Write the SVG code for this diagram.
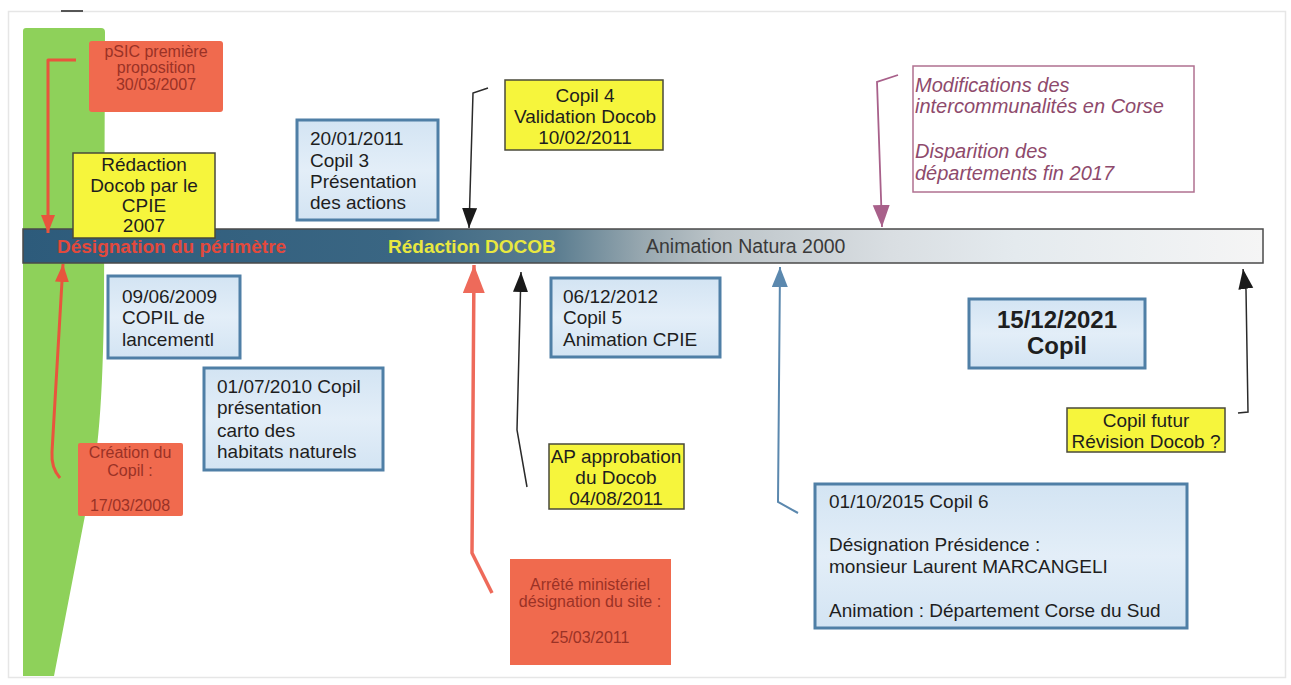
<svg xmlns="http://www.w3.org/2000/svg" width="1291" height="685" viewBox="0 0 1291 685">
<defs>
<style>
text{font-family:"Liberation Sans",Arial,sans-serif;}
.t{font-size:19px;fill:#1e1e1e;}
.tc{font-size:19px;fill:#1e1e1e;text-anchor:middle;}
.tr{font-size:16px;fill:#9a3226;text-anchor:middle;}
.blue{fill:url(#gBlue);stroke:#4f7fa6;stroke-width:3;}
.yel{fill:#f6f53c;stroke:#4a4a3a;stroke-width:1.5;}
.red{fill:#f06a4e;}
.cr{fill:none;stroke:#e8553d;stroke-width:3;stroke-linejoin:round;}
.ck{fill:none;stroke:#2a2a2a;stroke-width:1.5;}
</style>
<linearGradient id="gBar" x1="23" y1="0" x2="1263" y2="0" gradientUnits="userSpaceOnUse">
<stop offset="0" stop-color="#2d5b7b"/>
<stop offset="0.3" stop-color="#3a6683"/>
<stop offset="0.43" stop-color="#5b7d90"/>
<stop offset="0.5" stop-color="#98a8b0"/>
<stop offset="0.56" stop-color="#bcc4c8"/>
<stop offset="0.7" stop-color="#d9dee2"/>
<stop offset="0.8" stop-color="#e4eaee"/>
<stop offset="1" stop-color="#f5f5f5"/>
</linearGradient>
<linearGradient id="gBlue" x1="0" y1="0" x2="0" y2="1">
<stop offset="0" stop-color="#d3e4f3"/>
<stop offset="0.5" stop-color="#e3eef8"/>
<stop offset="1" stop-color="#d3e4f3"/>
</linearGradient>
<marker id="mRedS" markerUnits="userSpaceOnUse" markerWidth="20" markerHeight="16" refX="18" refY="7" orient="auto"><path d="M0,0 L18,7 L0,14 z" fill="#e8553d"/></marker>
<marker id="mRedL" markerUnits="userSpaceOnUse" markerWidth="30" markerHeight="24" refX="28" refY="11" orient="auto"><path d="M0,0 L28,11 L0,22 z" fill="#ee6a5a"/></marker>
<marker id="mBlack" markerUnits="userSpaceOnUse" markerWidth="22" markerHeight="16" refX="20" refY="7.5" orient="auto"><path d="M0,0 L20,7.5 L0,15 z" fill="#1a1a1a"/></marker>
<marker id="mPink" markerUnits="userSpaceOnUse" markerWidth="24" markerHeight="18" refX="22" refY="8.5" orient="auto"><path d="M0,0 L22,8.5 L0,17 z" fill="#a8608a"/></marker>
<marker id="mBlue" markerUnits="userSpaceOnUse" markerWidth="22" markerHeight="18" refX="20" refY="8" orient="auto"><path d="M0,0 L20,8 L0,16 z" fill="#5b88ae"/></marker>
</defs>
<rect width="1291" height="685" fill="#ffffff"/>
<rect x="8.5" y="11.5" width="1277" height="666" fill="none" stroke="#e6e6e6" stroke-width="1.5"/>
<line x1="61" y1="11" x2="83" y2="11" stroke="#555" stroke-width="2"/>

<g id="green-band">
<path d="M26,28 L101,28 Q105,28 105,32 L104,300 C103,400 98,460 88,500 L54,676 L23,676 L23,31 Q23,28 26,28 Z" fill="#8ed15a"/>
</g>

<g id="timeline">
<rect x="23" y="229" width="1240" height="34" fill="url(#gBar)" stroke="#4a4a4a" stroke-width="1.5"/>
<text x="57" y="253" style="font-size:19px;font-weight:bold;fill:#e2493c">Désignation du périmètre</text>
<text x="388" y="253" style="font-size:19px;font-weight:bold;fill:#e9e83f">Rédaction DOCOB</text>
<text x="646" y="253" style="font-size:19.5px;fill:#3a3a3a">Animation Natura 2000</text>
</g>

<g id="connectors">
<path class="cr" d="M76,60 L48,60 L48,233" marker-end="url(#mRedS)"/>
<path class="cr" d="M60,478 Q51,468 52,452 L63,264" marker-end="url(#mRedS)"/>
<path d="M492,593 L472,553 L474,265" fill="none" stroke="#ee6a5a" stroke-width="3.5" stroke-linejoin="round" marker-end="url(#mRedL)"/>
<path class="ck" d="M527,487 L517,430 L521,272" marker-end="url(#mBlack)"/>
<path class="ck" d="M488,88 L473,93 L469,228" marker-end="url(#mBlack)"/>
<path d="M898,75 L877,82 L882,227" fill="none" stroke="#a8608a" stroke-width="1.8" marker-end="url(#mPink)"/>
<path d="M798,513 L778,502 L780,267" fill="none" stroke="#5b88ae" stroke-width="2" marker-end="url(#mBlue)"/>
<path class="ck" d="M1238,413 L1248,412 L1246,290 L1243,269" marker-end="url(#mBlack)"/>
</g>

<g id="psic">
<rect class="red" x="89" y="41" width="134" height="71" rx="3"/>
<text class="tr" x="156" y="57">pSIC première</text>
<text class="tr" x="156" y="73">proposition</text>
<text class="tr" x="156" y="90">30/03/2007</text>
</g>

<g id="redaction-cpie">
<rect class="yel" x="73" y="153" width="142" height="85"/>
<text class="tc" x="144" y="171">Rédaction</text>
<text class="tc" x="144" y="192">Docob par le</text>
<text class="tc" x="144" y="212">CPIE</text>
<text class="tc" x="144" y="232">2007</text>
</g>

<g id="copil3">
<rect class="blue" x="297" y="120" width="141" height="100"/>
<text class="t" x="310" y="145">20/01/2011</text>
<text class="t" x="310" y="167">Copil 3</text>
<text class="t" x="310" y="188">Présentation</text>
<text class="t" x="310" y="209">des actions</text>
</g>

<g id="copil4">
<rect class="yel" x="505" y="80" width="158" height="70"/>
<text class="tc" x="585" y="102">Copil 4</text>
<text class="tc" x="585" y="123">Validation Docob</text>
<text class="tc" x="585" y="144">10/02/2011</text>
</g>

<g id="modifications">
<rect x="913" y="66" width="281" height="126" fill="#ffffff" stroke="#b07090" stroke-width="1.5"/>
<g style="font-size:20px;font-style:italic;fill:#8e4a6c">
<text x="915" y="92">Modifications des</text>
<text x="915" y="113">intercommunalités en Corse</text>
<text x="915" y="158">Disparition des</text>
<text x="915" y="180">départements fin 2017</text>
</g>
</g>

<g id="copil-lancement">
<rect class="blue" x="108" y="276" width="132" height="82"/>
<text class="t" x="122" y="303">09/06/2009</text>
<text class="t" x="122" y="324">COPIL de</text>
<text class="t" x="122" y="346">lancementl</text>
</g>

<g id="copil-2010">
<rect class="blue" x="204" y="368" width="179" height="102"/>
<text class="t" x="217" y="393">01/07/2010 Copil</text>
<text class="t" x="217" y="414">présentation</text>
<text class="t" x="217" y="437">carto des</text>
<text class="t" x="217" y="458">habitats naturels</text>
</g>

<g id="creation-copil">
<rect class="red" x="78" y="443" width="105" height="73" rx="2"/>
<text class="tr" x="130" y="458">Création du</text>
<text class="tr" x="130" y="476">Copil :</text>
<text class="tr" x="130" y="511">17/03/2008</text>
</g>

<g id="copil5">
<rect class="blue" x="551" y="278" width="169" height="79"/>
<text class="t" x="563" y="303">06/12/2012</text>
<text class="t" x="563" y="324">Copil 5</text>
<text class="t" x="563" y="346">Animation CPIE</text>
</g>

<g id="ap-approbation">
<rect class="yel" x="549" y="444" width="135" height="65"/>
<text class="tc" x="616" y="463">AP approbation</text>
<text class="tc" x="616" y="484">du Docob</text>
<text class="tc" x="616" y="505">04/08/2011</text>
</g>

<g id="arrete">
<rect class="red" x="510" y="559" width="161" height="106"/>
<text class="tr" x="590" y="590">Arrêté ministériel</text>
<text class="tr" x="590" y="607">désignation du site :</text>
<text class="tr" x="590" y="643">25/03/2011</text>
</g>

<g id="copil6">
<rect class="blue" x="815" y="484" width="372" height="144"/>
<text class="t" x="829" y="508">01/10/2015 Copil 6</text>
<text class="t" x="829" y="551">Désignation Présidence  :</text>
<text class="t" x="829" y="573">monsieur Laurent MARCANGELI</text>
<text class="t" x="829" y="617">Animation  : Département Corse du Sud</text>
</g>

<g id="copil-2021">
<rect class="blue" x="969" y="299" width="176" height="69"/>
<text x="1057" y="328" style="font-size:24px;font-weight:bold;fill:#1e1e1e;text-anchor:middle">15/12/2021</text>
<text x="1057" y="354" style="font-size:24px;font-weight:bold;fill:#1e1e1e;text-anchor:middle">Copil</text>
</g>

<g id="copil-futur">
<rect class="yel" x="1067" y="408" width="158" height="44"/>
<text class="tc" x="1146" y="427">Copil futur</text>
<text class="tc" x="1146" y="448">Révision Docob ?</text>
</g>
</svg>
